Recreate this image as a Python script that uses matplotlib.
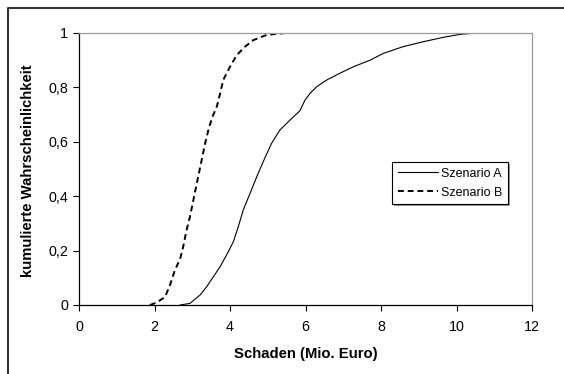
import matplotlib
matplotlib.use("Agg")
import matplotlib.pyplot as plt
from matplotlib.lines import Line2D
from matplotlib.patches import Rectangle

plt.rcParams['font.family'] = ['Liberation Sans', 'DejaVu Sans']

# Data
szenario_a_x = [2.68, 2.94, 3.21, 3.38, 3.56, 3.74, 3.91, 4.09, 4.22, 4.35, 4.53, 4.71, 4.88,
                5.10, 5.32, 5.59, 5.85, 5.99, 6.12, 6.30, 6.56, 6.91, 7.27, 7.71, 8.06, 8.59,
                9.12, 9.65, 10.09, 10.54, 12.0]
szenario_a_y = [0.0, 0.006, 0.037, 0.067, 0.104, 0.141, 0.184, 0.233, 0.288, 0.349, 0.41, 0.472,
                0.527, 0.594, 0.643, 0.68, 0.714, 0.754, 0.778, 0.803, 0.827, 0.852, 0.876, 0.90,
                0.925, 0.95, 0.968, 0.984, 0.995, 1.0, 1.0]
szenario_b_x = [1.88, 2.06, 2.28, 2.41, 2.54, 2.68, 2.76, 2.85, 2.94, 3.03, 3.12, 3.25, 3.34,
                3.45, 3.56, 3.65, 3.75, 3.82, 4.00, 4.18, 4.40, 4.62, 4.97, 5.46]
szenario_b_y = [0.0, 0.009, 0.03, 0.073, 0.128, 0.17, 0.214, 0.276, 0.325, 0.386, 0.447, 0.533,
                0.594, 0.656, 0.70, 0.729, 0.784, 0.827, 0.876, 0.919, 0.95, 0.974, 0.993, 1.0]
x_ticks = [0, 2, 4, 6, 8, 10, 12]
y_ticks = [0, 0.2, 0.4, 0.6, 0.8, 1.0]
y_tick_labels = ['0', '0,2', '0,4', '0,6', '0,8', '1']
series_labels = ['Szenario A', 'Szenario B']
x_label = 'Schaden (Mio. Euro)'
y_label = 'kumulierte Wahrscheinlichkeit'

W, H = 564, 374
fig = plt.figure(figsize=(W / 100, H / 100), dpi=100)
ax = fig.add_axes([79 / W, 1 - 305 / H, (532 - 79) / W, (305 - 33) / H])

ax.plot(szenario_a_x, szenario_a_y, color='black', lw=0.8, label=series_labels[0])
ax.plot(szenario_b_x, szenario_b_y, color='black', lw=1.4, dashes=(3, 2), label=series_labels[1])

ax.set_xlim(0, 12)
ax.set_ylim(0, 1)
ax.set_xticks(x_ticks)
ax.set_xticklabels([str(t) for t in x_ticks])
ax.set_yticks(y_ticks)
ax.set_yticklabels(y_tick_labels)
ax.tick_params(axis='both', labelsize=10.3, direction='out', length=4, width=0.8, colors='black')
ax.tick_params(axis='x', pad=7)
ax.tick_params(axis='y', pad=4)

for s in ['left', 'bottom']:
    ax.spines[s].set_color('black')
    ax.spines[s].set_linewidth(0.9)
for s in ['top', 'right']:
    ax.spines[s].set_color('#9a9a9a')
    ax.spines[s].set_linewidth(0.9)

leg = ax.legend(loc='upper left', bbox_to_anchor=((392 - 79) / 453, (305 - 162) / 272),
                frameon=True, fancybox=False, fontsize=9, handlelength=3.2,
                handletextpad=0.25, borderpad=0.45, labelspacing=0.55, borderaxespad=0,
                framealpha=1.0)
leg.get_frame().set_edgecolor('black')
leg.get_frame().set_linewidth(0.8)
leg.set_zorder(5)

# subtle legend shadow (1-2 px)
fig.canvas.draw()
bb = leg.get_window_extent().transformed(fig.transFigure.inverted())
shadow = Rectangle((bb.x0 + 2 / W, bb.y0 - 2 / H), bb.width, bb.height,
                   transform=fig.transFigure, facecolor='0.6', edgecolor='none', zorder=4)
fig.add_artist(shadow)
leg.remove()
fig.add_artist(leg)

fig.text(305.5 / W, 1 - 354 / H, x_label, ha='center', va='center', fontsize=10.7, fontweight='bold')
fig.text(28 / W, 1 - 171 / H, y_label, ha='center', va='center', rotation=90,
         fontsize=10.7, fontweight='bold')

# Outer chart border (top and left visible)
fig.add_artist(Line2D([7.5 / W, 7.5 / W, 1.0], [0.0, 1 - 8 / H, 1 - 8 / H],
                      transform=fig.transFigure, color='#333333', lw=1.5))

fig.savefig('out.png', dpi=100)
